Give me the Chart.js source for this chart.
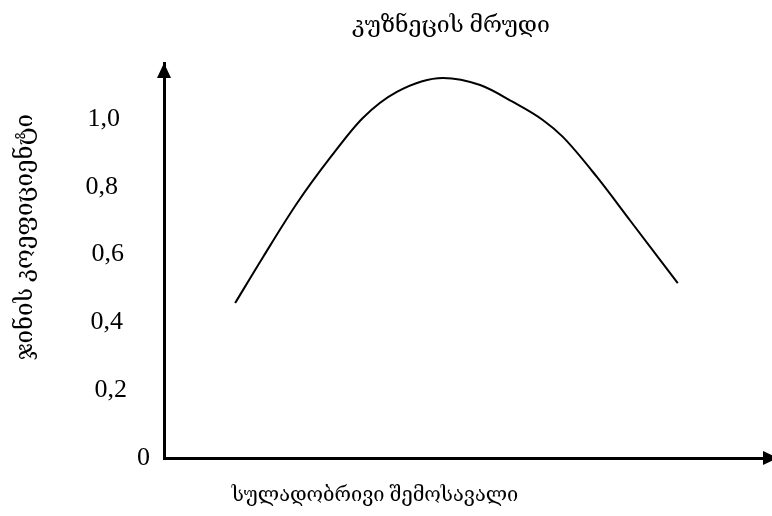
<!DOCTYPE html>
<html>
<head>
<meta charset="utf-8">
<script src="https://cdn.jsdelivr.net/npm/chart.js@4"></script>
<style>
  html, body { margin: 0; padding: 0; background: #fff; }
  #wrap { width: 772px; height: 516px; }
</style>
</head>
<body>
<div id="wrap"><canvas id="chart"></canvas></div>
<script>
// მონაცემები (სქემატური მრუდი)
const incomeX = [11.7, 16.3, 21.9, 27.3, 32.7, 38.3, 45.9, 52.0, 57.4, 62.3, 65.6, 71.2, 76.6, 84.5];
const giniY = [0.457, 0.593, 0.752, 0.885, 1.003, 1.080, 1.121, 1.100, 1.050, 0.997, 0.947, 0.829, 0.702, 0.516];
const tickValues = [0, 0.2, 0.4, 0.6, 0.8, 1.0];
const tickLabels = ['0', '0,2', '0,4', '0,6', '0,8', '1,0'];

const chartTitle = 'კუზნეცის მრუდი';
const xTitle = 'სულადობრივი შემოსავალი';
const yTitle = 'ჯინის კოეფიციენტი';

const serif = '"Liberation Serif", "DejaVu Serif", serif';

// ისრები, სათაურები და ღერძის ნიშნულები
const decorations = {
    id: 'decorations',
    afterDraw(chart) {
        const ctx = chart.ctx;
        const area = chart.chartArea;
        const y = chart.scales.y;
        ctx.save();
        ctx.fillStyle = '#000';

        // ვერტიკალური ისარი
        ctx.beginPath();
        ctx.moveTo(area.left, area.top);
        ctx.lineTo(area.left - 7, area.top + 15);
        ctx.lineTo(area.left + 7, area.top + 15);
        ctx.closePath();
        ctx.fill();

        // ჰორიზონტალური ისარი
        ctx.beginPath();
        ctx.moveTo(area.right + 6, area.bottom);
        ctx.lineTo(area.right - 9, area.bottom - 7);
        ctx.lineTo(area.right - 9, area.bottom + 7);
        ctx.closePath();
        ctx.fill();

        // ნიშნულები
        const nudge = [28, 5, 1, 2, -4, -2];
        ctx.font = '26px ' + serif;
        ctx.textAlign = 'right';
        ctx.textBaseline = 'middle';
        tickValues.forEach((v, i) => {
            ctx.fillText(tickLabels[i], 122 + nudge[i], y.getPixelForValue(v));
        });

        // სათაურები
        ctx.textAlign = 'center';
        ctx.font = '23px ' + serif;
        ctx.fillText(chartTitle, 451, 26);
        ctx.font = '20px ' + serif;
        ctx.fillText(xTitle, 375, 496);

        ctx.font = '24px ' + serif;
        ctx.translate(26, 237);
        ctx.rotate(-Math.PI / 2);
        ctx.fillText(yTitle, 0, 0);
        ctx.restore();
    }
};

const chart = new Chart(document.getElementById('chart'), {
    type: 'line',
    data: {
        datasets: [{
            data: incomeX.map((x, i) => ({ x: x, y: giniY[i] })),
            borderColor: '#000',
            borderWidth: 2,
            pointRadius: 0,
            cubicInterpolationMode: 'monotone',
            fill: false
        }]
    },
    options: {
        responsive: true,
        maintainAspectRatio: false,
        animation: false,
        layout: { padding: { top: 63, right: 0, left: 0, bottom: 0 } },
        plugins: {
            legend: { display: false },
            title: { display: false },
            tooltip: { enabled: false }
        },
        scales: {
            x: {
                type: 'linear',
                min: 0,
                max: 100,
                grid: { display: false },
                ticks: { display: false },
                border: { display: true, color: '#000', width: 3 },
                afterFit: (scale) => { scale.height = 58; }
            },
            y: {
                min: 0,
                max: 1.165,
                grid: { display: false },
                ticks: { display: false },
                border: { display: true, color: '#000', width: 3 },
                afterFit: (scale) => { scale.width = 164; }
            }
        }
    },
    plugins: [decorations]
});
</script>
</body>
</html>
